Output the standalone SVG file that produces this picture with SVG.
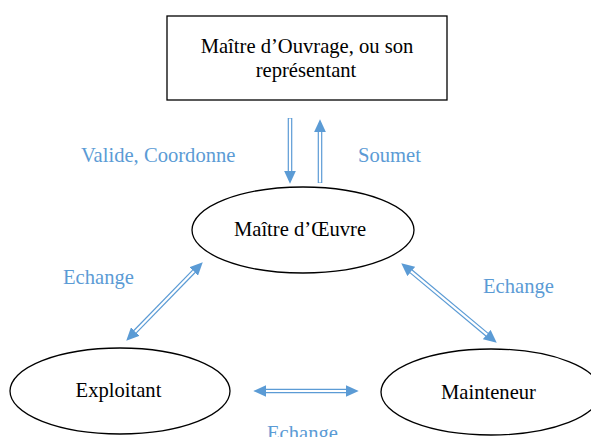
<svg xmlns="http://www.w3.org/2000/svg" width="591" height="437" viewBox="0 0 591 437">
<style>
.box{fill:#fff;stroke:#000;stroke-width:1.3}
.lbl{font-family:"Liberation Serif","Times New Roman",serif;font-size:20.6px;fill:#000;text-anchor:middle}
.blue{font-family:"Liberation Serif","Times New Roman",serif;font-size:20.6px;fill:#5B9BD5}
.shaft{fill:none;stroke:#5B9BD5;stroke-width:4.6}
.inner{fill:none;stroke:#fff;stroke-width:2.2}
</style>
<defs>
<marker id="ah" markerUnits="userSpaceOnUse" viewBox="0 0 13 12" refX="0.3" refY="6" markerWidth="13" markerHeight="12" orient="auto-start-reverse">
<path d="M0,0 L13,6 L0,12 z" fill="#5B9BD5"/>
</marker>
</defs>
<rect width="591" height="437" fill="#fff"/>
<g id="connectors">
<g id="c-down">
<path class="shaft" d="M290,118 L290,171" marker-end="url(#ah)"/>
<path class="inner" d="M290,118.5 L290,171"/>
</g>
<g id="c-up">
<path class="shaft" d="M320,183 L320,132" marker-end="url(#ah)"/>
<path class="inner" d="M320,182.5 L320,132"/>
</g>
<g id="c-left">
<path class="shaft" d="M193.9,271.3 L135.1,331.7" marker-start="url(#ah)" marker-end="url(#ah)"/>
<path class="inner" d="M193.9,271.3 L135.1,331.7"/>
</g>
<g id="c-right">
<path class="shaft" d="M411,271.3 L487,334.7" marker-start="url(#ah)" marker-end="url(#ah)"/>
<path class="inner" d="M411,271.3 L487,334.7"/>
</g>
<g id="c-bottom">
<path class="shaft" d="M266,391 L346,391" marker-start="url(#ah)" marker-end="url(#ah)"/>
<path class="inner" d="M266,391 L346,391"/>
</g>
<text class="blue" x="81" y="162">Valide, Coordonne</text>
<text class="blue" x="358" y="162">Soumet</text>
<text class="blue" x="63" y="284">Echange</text>
<text class="blue" x="483" y="293">Echange</text>
<text class="blue" x="267" y="440">Echange</text>
</g>
<g id="moa">
<rect class="box" x="167" y="16" width="280" height="84"/>
<text class="lbl" x="307" y="53">Maître d’Ouvrage, ou son</text>
<text class="lbl" x="306" y="77">représentant</text>
</g>
<g id="moe">
<ellipse class="box" cx="303" cy="230" rx="111" ry="43"/>
<text class="lbl" x="300" y="236">Maître d’Œuvre</text>
</g>
<g id="exploitant">
<ellipse class="box" cx="120" cy="391" rx="110" ry="43"/>
<text class="lbl" x="118.5" y="397">Exploitant</text>
</g>
<g id="mainteneur">
<ellipse class="box" cx="491" cy="392" rx="110" ry="43"/>
<text class="lbl" x="488.5" y="399">Mainteneur</text>
</g>
</svg>
